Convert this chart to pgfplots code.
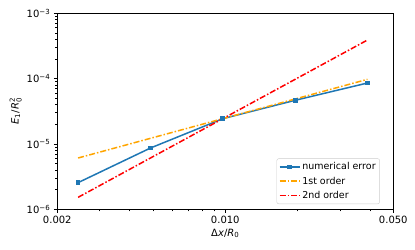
\documentclass[border=0pt]{standalone}
\usepackage{fontspec}
\setmainfont{DejaVu Sans}
\usepackage{amsmath}
\usepackage{pgfplots}
\pgfplotsset{compat=1.18}
\definecolor{mplblue}{HTML}{1F77B4}
\definecolor{mplorange}{HTML}{FFA500}
\definecolor{legedge}{HTML}{CCCCCC}
\begin{document}
\fontsize{10}{12}\selectfont
\begin{tikzpicture}
\begin{axis}[
  scale only axis,
  width=336pt, height=196pt,
  xmode=log, ymode=log,
  xmin=0.002, xmax=0.05,
  ymin=1e-6, ymax=1e-3,
  log basis x=10, log basis y=10,
  xtick={0.002,0.01,0.05},
  xticklabels={0.002,0.010,0.050},
  minor xtick={0.003,0.004,0.005,0.006,0.007,0.008,0.009,0.02,0.03,0.04},
  ytick={1e-6,1e-5,1e-4,1e-3},
  yticklabels={10\textsuperscript{−6},10\textsuperscript{−5},10\textsuperscript{−4},10\textsuperscript{−3}},
  minor ytick={2e-6,3e-6,4e-6,5e-6,6e-6,7e-6,8e-6,9e-6,2e-5,3e-5,4e-5,5e-5,6e-5,7e-5,8e-5,9e-5,2e-4,3e-4,4e-4,5e-4,6e-4,7e-4,8e-4,9e-4},
  tick align=outside,
  tick pos=left,
  major tick length=3.5pt,
  minor tick length=2pt,
  every tick/.style={black, line width=0.8pt},
  minor tick style={line width=0.6pt},
  axis line style={line width=0.8pt},
  tick label style={font=\fontsize{10}{12}\selectfont},
  xlabel={Δ\textit{x}/\textit{R}$_{\textrm{0}}$},
  ylabel={\textit{E}$_{\textrm{1}}$/\textit{R}$_{\textrm{0}}^{\textrm{2}}$},
  xlabel style={font=\fontsize{10}{12}\selectfont, yshift=2pt},
  ylabel style={font=\fontsize{10}{12}\selectfont, yshift=-2pt},
  legend style={at={(0.960,0.027)}, anchor=south east, draw=legedge, rounded corners=2pt,
    font=\fontsize{9.5}{11}\selectfont, fill=white,
    row sep=1.5pt, inner sep=2pt},
  legend cell align=left,
  legend image code/.code={\draw[mark repeat=2,mark phase=2,#1] plot coordinates {(0pt,0pt) (10pt,0pt) (20pt,0pt)};},
]
\addplot[mplblue, line width=1.5pt, mark=square*, mark size=1.6pt, mark options={solid}] coordinates {
(0.00244140625,2.56e-6) (0.0048828125,8.67e-6) (0.009765625,2.44e-5) (0.01953125,4.66e-5) (0.0390625,8.57e-5)};
\addlegendentry{numerical error}
\addplot[mplorange, line width=1.5pt, dash pattern=on 6pt off 2pt on 1.5pt off 2pt] coordinates {
(0.00244140625,6.1e-6) (0.0048828125,1.22e-5) (0.009765625,2.44e-5) (0.01953125,4.88e-5) (0.0390625,9.76e-5)};
\addlegendentry{1st order}
\addplot[red, line width=1.5pt, dash pattern=on 6pt off 2pt on 1.5pt off 2pt] coordinates {
(0.00244140625,1.525e-6) (0.0048828125,6.1e-6) (0.009765625,2.44e-5) (0.01953125,9.76e-5) (0.0390625,3.904e-4)};
\addlegendentry{2nd order}
\end{axis}
\path ([xshift=-57.3pt,yshift=-40.7pt]current axis.south west) rectangle ([xshift=21.7pt,yshift=13.3pt]current axis.north east);
\end{tikzpicture}
\end{document}
